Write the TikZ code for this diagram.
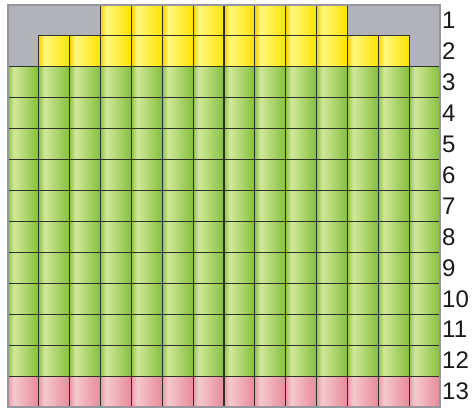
\documentclass[tikz,border=0pt]{standalone}
\usepackage{fontspec}
\setmainfont{Liberation Sans}
\definecolor{graybg}{RGB}{178,178,186}
\definecolor{framec}{RGB}{150,150,156}
\definecolor{gridc}{RGB}{45,50,40}
\pgfdeclarehorizontalshading{gshade}{100bp}{rgb(0bp)=(0.55,0.76,0.30); rgb(25bp)=(0.55,0.76,0.30); rgb(34bp)=(0.82,0.91,0.60); rgb(75bp)=(0.52,0.75,0.24); rgb(100bp)=(0.52,0.75,0.24)}
\pgfdeclarehorizontalshading{yshade}{100bp}{rgb(0bp)=(0.96,0.82,0.0); rgb(25bp)=(0.96,0.82,0.0); rgb(34bp)=(1,0.97,0.50); rgb(75bp)=(1,0.89,0.0); rgb(100bp)=(1,0.89,0.0)}
\pgfdeclarehorizontalshading{pshade}{100bp}{rgb(0bp)=(0.90,0.60,0.65); rgb(25bp)=(0.90,0.60,0.65); rgb(34bp)=(0.96,0.79,0.81); rgb(75bp)=(0.91,0.54,0.60); rgb(100bp)=(0.91,0.54,0.60)}
\begin{document}
\begin{tikzpicture}[x=1pt,y=-1pt,
  cellbox/.style={draw=gridc, line width=1.1pt, minimum width=30.857pt, minimum height=30.923pt, inner sep=0pt, outer sep=0pt, anchor=north west},
  greencell/.style={cellbox, shade, shading=gshade},
  yellowcell/.style={cellbox, shade, shading=yshade},
  pinkcell/.style={cellbox, shade, shading=pshade},
  lab/.style={anchor=west, inner sep=0pt, font=\fontsize{24}{28}\selectfont, text=black!90}]
\fill[white] (0,0) rectangle (476,409);
\useasboundingbox (0,0) rectangle (476,409);
\fill[graybg] (8,5) rectangle (440,66.85);
\foreach \c in {4,...,11}
  \node[yellowcell] (c1-\c) at ({8+(\c-1)*30.857},{5}) {};
\foreach \c in {2,...,13}
  \node[yellowcell] (c2-\c) at ({8+(\c-1)*30.857},{5+30.923}) {};
\foreach \r in {3,...,12}
  \foreach \c in {1,...,14}
    \node[greencell] (c\r-\c) at ({8+(\c-1)*30.857},{5+(\r-1)*30.923}) {};
\foreach \c in {1,...,14}
  \node[pinkcell] (c13-\c) at ({8+(\c-1)*30.857},{5+12*30.923}) {};
\draw[framec, line width=1.6pt] (8,5) rectangle (440,407);
\foreach \r in {1,...,13}
  \node[lab] (l\r) at (442,{5+(\r-0.5)*30.923}) {\r};
\end{tikzpicture}
\end{document}
